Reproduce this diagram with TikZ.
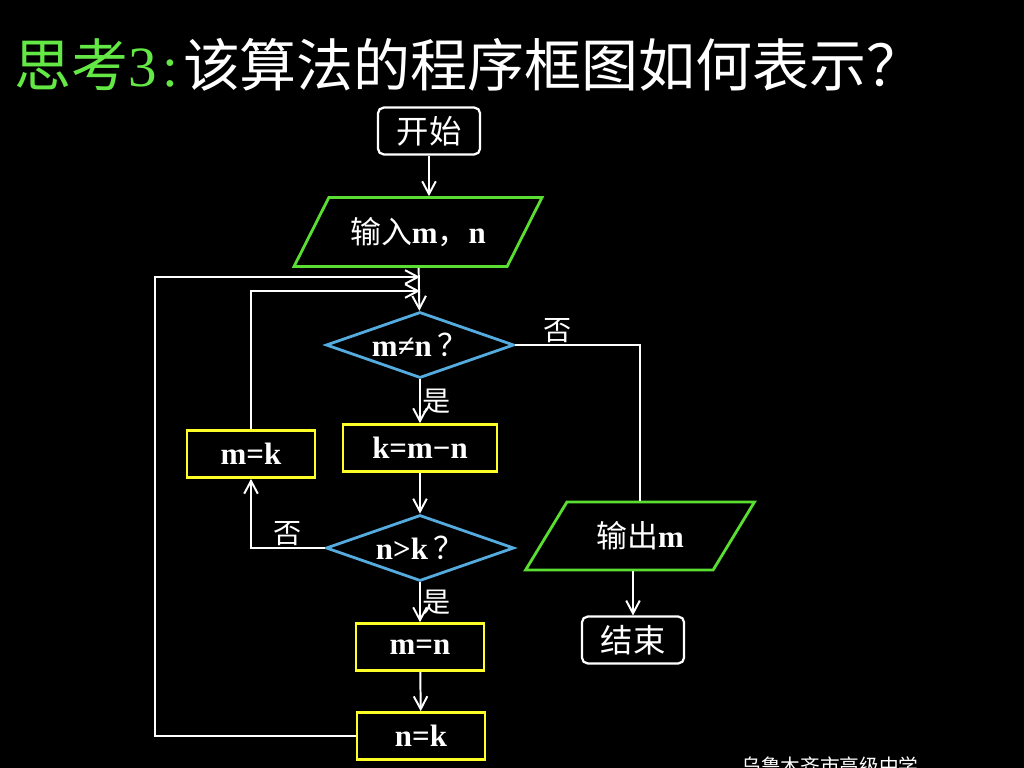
\documentclass[tikz,border=0pt]{standalone}
\usepackage{fontspec}
\setmainfont{Liberation Serif}
\newfontfamily\cjk{Noto Sans CJK SC}
\usepackage{xcolor}
\usepackage{tikz}
\usetikzlibrary{shapes.geometric}
\usetikzlibrary{arrows.meta}
\definecolor{titlegreen}{RGB}{100,232,70}
\definecolor{framegreen}{RGB}{90,222,50}
\definecolor{diamblue}{RGB}{85,170,222}
\definecolor{boxyellow}{RGB}{255,255,40}

\begin{document}
\begin{tikzpicture}[x=0.025cm,y=-0.025cm,
    line/.style={white,line width=1.4pt},
    arr/.style={line,-{Straight Barb[length=3.2mm,width=3.4mm,line width=1.4pt]}},
    lbl/.style={text=white,inner sep=1pt,font=\cjk\fontsize{20}{24}\selectfont},
    term/.style={draw=white,line width=1.6pt,rounded corners=4pt,text=white,
      minimum width=2.55cm,minimum height=1.17cm,font=\cjk\fontsize{23}{26}\selectfont},
    io/.style={trapezium,trapezium stretches=true,draw=framegreen,line width=2pt,
      text=white,inner sep=0pt,font=\bfseries\fontsize{22}{26}\selectfont},
    test/.style={diamond,aspect=2.85,draw=diamblue,line width=2pt,text=white,inner sep=0pt,
      minimum width=4.7cm,minimum height=1.65cm,font=\bfseries\fontsize{22}{26}\selectfont},
    proc/.style={draw=boxyellow,line width=2pt,text=white,minimum width=3.2cm,
      minimum height=1.17cm,font=\bfseries\fontsize{22}{26}\selectfont}]
    \useasboundingbox (0,0) rectangle (1024,768);
    \fill[black] (0,0) rectangle (1024,768);
    %
    \node[anchor=west,text=white,font=\fontsize{40.5}{44}\selectfont] (title) at (10,65)
      {\textcolor{titlegreen}{{\cjk 思考}3\hspace{4pt}:}\hspace{3pt}{\cjk 该算法的程序框图如何表示？}};
    %
    \node[term] (start) at (429,131) {开始};
    \node[io,trapezium left angle=48,trapezium right angle=132,
      minimum width=6.2cm,minimum height=1.72cm] (in) at (418,232)
      {{\cjk\mdseries 输入}m{\cjk\mdseries ，}n};
    \node[test] (d1) at (420,345) {m≠n\,{\cjk\mdseries ？}};
    \node[proc,minimum width=3.85cm] (kmn) at (420,448) {k=m−n};
    \node[test] (d2) at (420,548) {n>k\,{\cjk\mdseries ？}};
    \node[proc] (mk) at (251,454) {m=k};
    \node[proc] (mn) at (420,647) {m=n};
    \node[proc] (nk) at (421,736) {n=k};
    \node[io,trapezium left angle=49,trapezium right angle=131,
      minimum width=5.75cm,minimum height=1.7cm] (out) at (640,536)
      {{\cjk\mdseries 输出}m};
    \node[term] (end) at (633,640) {结束};
    \node[text=white,font=\cjk\fontsize{14}{16}\selectfont] (school) at (830,766)
      {乌鲁木齐市高级中学};
    %
    \coordinate (j1) at (420,291);
    \coordinate (j2) at (420,277);
    \coordinate (c1) at (155,277);
    %
    \draw[arr] (start) -- (start |- in.north);
    \draw[arr] (in) -- (d1);
    \draw[arr] (d1) -- node[right,lbl] {是} (kmn);
    \draw[arr] (kmn) -- (d2);
    \draw[arr] (d2) -- node[right,lbl] {是} (mn);
    \draw[arr] (mn) -- (nk);
    \draw[arr] (d2) -| node[pos=0.25,above,lbl] {否} (mk);
    \draw[arr] (mk) |- (j1);
    \draw[arr] (nk) -| (c1) -- (j2);
    \draw[line] (d1) -| node[pos=0.17,above,lbl] {否} (out);
    \draw[arr] (end |- out.south) -- (end);
  \end{tikzpicture}
\end{document}
